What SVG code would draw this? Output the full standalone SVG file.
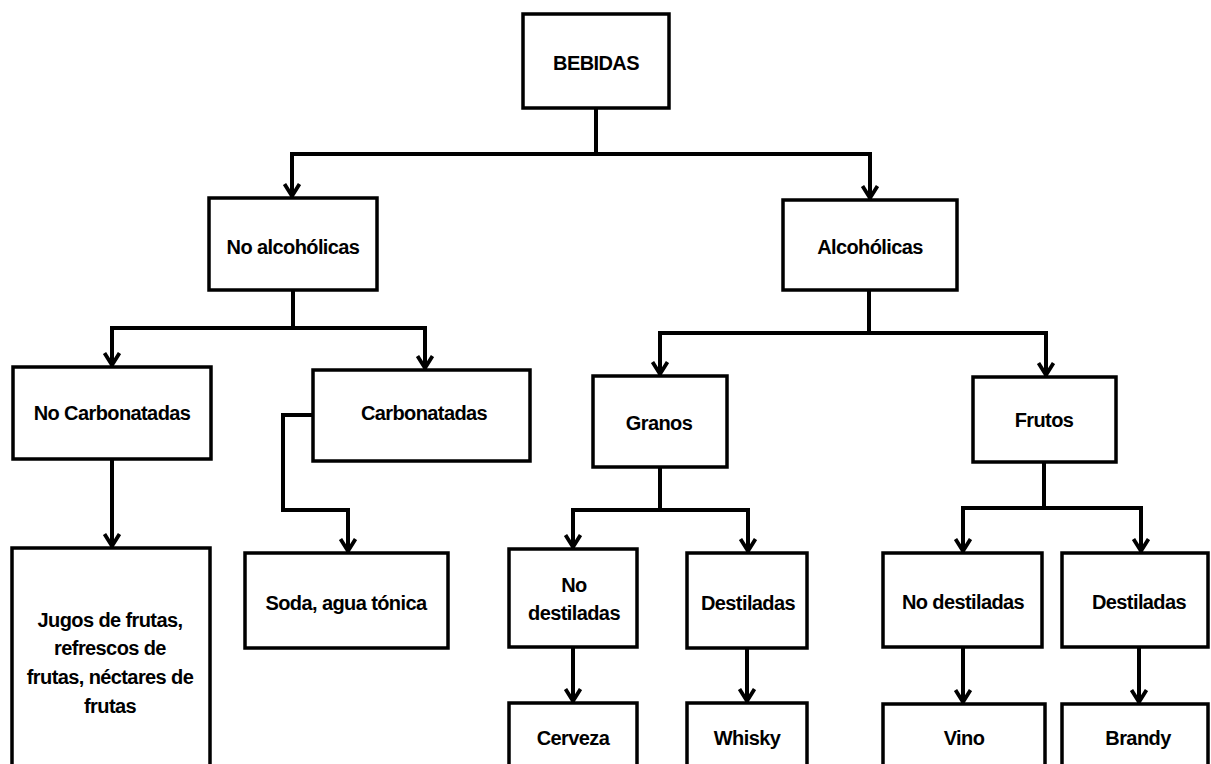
<svg xmlns="http://www.w3.org/2000/svg" width="1211" height="764" viewBox="0 0 1211 764">
<style>
.box{fill:#fff;stroke:#000;stroke-width:3.5}
.t{font-family:"Liberation Sans",Arial,sans-serif;font-weight:bold;font-size:20px;letter-spacing:-0.6px;text-anchor:middle;fill:#000}
.c{fill:none;stroke:#000;stroke-width:4;stroke-linejoin:miter}
.a{fill:none;stroke:#000;stroke-width:4;marker-end:url(#arr)}
</style>
<defs>
<marker id="arr" markerUnits="userSpaceOnUse" markerWidth="18" markerHeight="18" viewBox="0 0 18 18" refX="16" refY="9" orient="auto">
<path d="M3,1.5 L15,9 L3,16.5" fill="none" stroke="#000" stroke-width="3.8"/>
</marker>
</defs>
<rect width="1211" height="764" fill="#fff"/>
<g id="connectors">
<path class="c" d="M596,108 V154"/>
<path class="a" d="M596,154 H292 V197"/>
<path class="a" d="M596,154 H870 V199"/>
<path class="c" d="M293,290 V328"/>
<path class="a" d="M293,328 H112 V366"/>
<path class="a" d="M293,328 H425 V369"/>
<path class="a" d="M112,459 V547"/>
<path class="a" d="M313,415 H283 V510 H348 V552"/>
<path class="c" d="M869,290 V333"/>
<path class="a" d="M869,333 H660 V375"/>
<path class="a" d="M869,333 H1046 V376"/>
<path class="c" d="M660,467 V510"/>
<path class="a" d="M660,510 H573 V548"/>
<path class="a" d="M660,510 H748 V552"/>
<path class="c" d="M1044,462 V508"/>
<path class="a" d="M1044,508 H963 V552"/>
<path class="a" d="M1044,508 H1141 V552"/>
<path class="a" d="M573,647 V702"/>
<path class="a" d="M747,648 V702"/>
<path class="a" d="M963,647 V703"/>
<path class="a" d="M1139,647 V703"/>
</g>
<g id="n-bebidas"><rect class="box" x="523" y="14" width="146" height="94"/><text class="t" x="596" y="70">BEBIDAS</text></g>
<g id="n-noalc"><rect class="box" x="209" y="198" width="168" height="92"/><text class="t" x="293" y="254">No alcohólicas</text></g>
<g id="n-alc"><rect class="box" x="783" y="200" width="174" height="90"/><text class="t" x="870" y="254">Alcohólicas</text></g>
<g id="n-nocarb"><rect class="box" x="13" y="367" width="198" height="92"/><text class="t" x="112" y="420">No Carbonatadas</text></g>
<g id="n-carb"><rect class="box" x="313" y="370" width="217" height="91"/><text class="t" x="424" y="420">Carbonatadas</text></g>
<g id="n-jugos"><rect class="box" x="12" y="548" width="198" height="240"/><text class="t" x="110" y="627">Jugos de frutas,</text><text class="t" x="110" y="655">refrescos de</text><text class="t" x="110" y="684">frutas, néctares de</text><text class="t" x="110" y="713">frutas</text></g>
<g id="n-soda"><rect class="box" x="245" y="553" width="203" height="95"/><text class="t" x="346" y="610">Soda, agua tónica</text></g>
<g id="n-granos"><rect class="box" x="593" y="376" width="134" height="91"/><text class="t" x="659" y="430">Granos</text></g>
<g id="n-frutos"><rect class="box" x="973" y="377" width="143" height="85"/><text class="t" x="1044" y="427">Frutos</text></g>
<g id="n-nodestg"><rect class="box" x="509" y="549" width="128" height="98"/><text class="t" x="574" y="592">No</text><text class="t" x="574" y="620">destiladas</text></g>
<g id="n-destg"><rect class="box" x="687" y="553" width="120" height="95"/><text class="t" x="748" y="610">Destiladas</text></g>
<g id="n-nodestf"><rect class="box" x="883" y="553" width="159" height="94"/><text class="t" x="963" y="609">No destiladas</text></g>
<g id="n-destf"><rect class="box" x="1062" y="553" width="146" height="94"/><text class="t" x="1139" y="609">Destiladas</text></g>
<g id="n-cerveza"><rect class="box" x="509" y="703" width="128" height="80"/><text class="t" x="573" y="745">Cerveza</text></g>
<g id="n-whisky"><rect class="box" x="687" y="703" width="120" height="80"/><text class="t" x="747" y="745">Whisky</text></g>
<g id="n-vino"><rect class="box" x="883" y="704" width="162" height="80"/><text class="t" x="964" y="745">Vino</text></g>
<g id="n-brandy"><rect class="box" x="1062" y="704" width="146" height="80"/><text class="t" x="1138" y="745">Brandy</text></g>
</svg>
